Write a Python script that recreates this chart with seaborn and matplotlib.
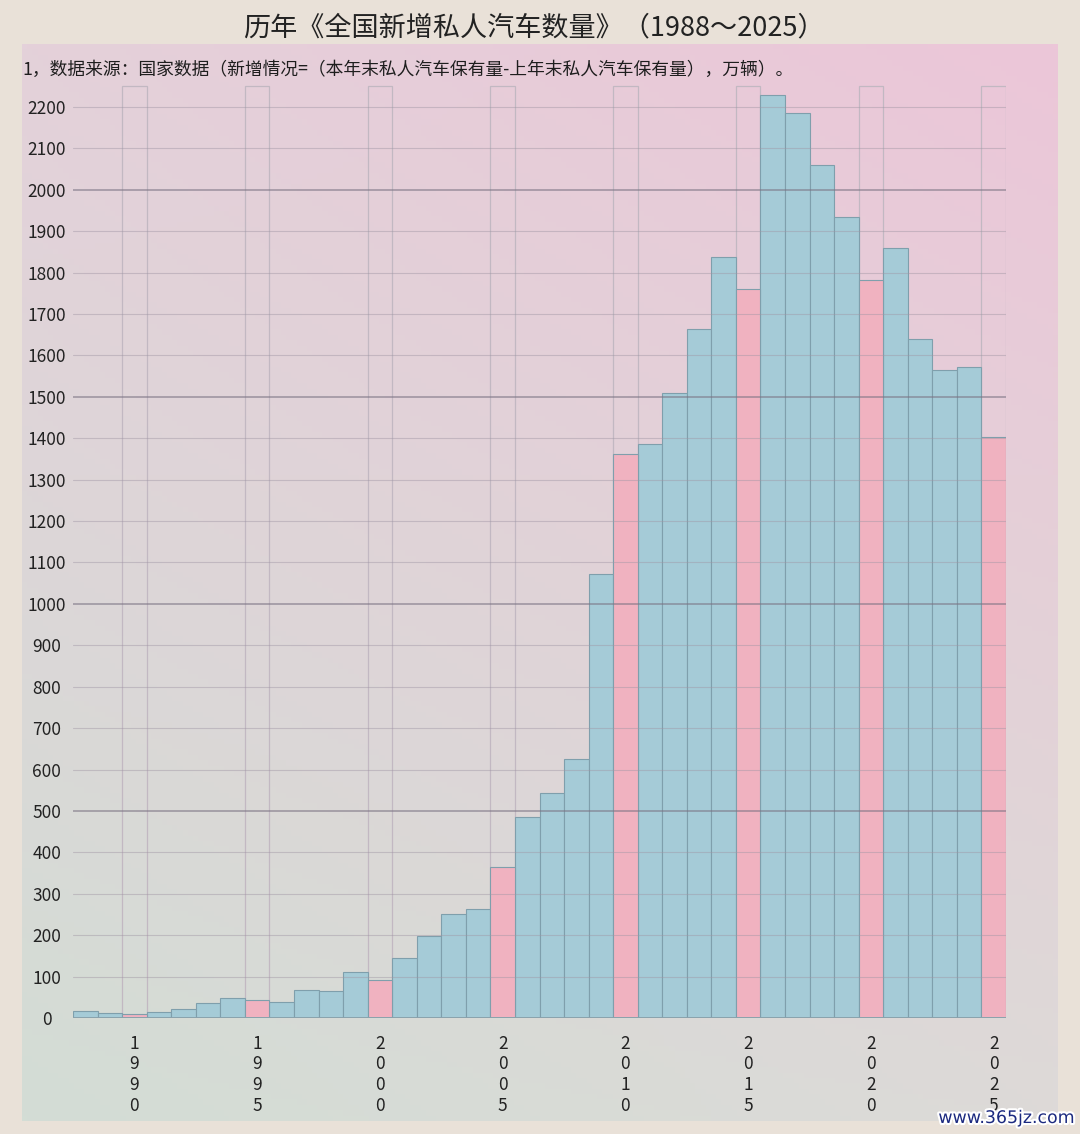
import numpy as np
import pandas as pd
import matplotlib
matplotlib.use("Agg")
import matplotlib.pyplot as plt
import matplotlib.patheffects as pe
import seaborn as sns

# ---- data ----
years = list(range(1988, 2026))
new_cars = [18, 13, 9, 14, 22, 36, 48, 44, 39, 68, 65, 112, 91, 146, 197, 250, 263,
            364, 485, 544, 625, 1072, 1362, 1387, 1510, 1663, 1837, 1760, 2229, 2185,
            2059, 1934, 1781, 1859, 1639, 1565, 1573, 1403]
milestone_years = [1990, 1995, 2000, 2005, 2010, 2015, 2020, 2025]
frame_height = 2250
y_ticks = list(range(0, 2201, 100))
title = "历年《全国新增私人汽车数量》（1988～2025）"
subtitle = "1，数据来源：国家数据（新增情况=（本年末私人汽车保有量-上年末私人汽车保有量），万辆）。"

sns.set_theme(style="white")
plt.rcParams['font.family'] = ['Noto Sans CJK SC', 'DejaVu Sans']

W, H = 1080, 1134
fig = plt.figure(figsize=(W / 100, H / 100), dpi=100)
fig.patch.set_facecolor('#e9e1d8')

# gradient panel
bg = fig.add_axes([22 / W, 1 - 1121 / H, (1058 - 22) / W, (1121 - 44) / H])
def hx(c):
    return np.array([int(c[i:i + 2], 16) / 255 for i in (1, 3, 5)])
TL, TR, BL, BR = hx('#e4d1da'), hx('#ecc6d8'), hx('#d3ddd5'), hx('#dddad8')
u = np.linspace(0, 1, 200)[None, :, None]
v = np.linspace(0, 1, 200)[:, None, None]
img = (1 - v) * ((1 - u) * TL + u * TR) + v * ((1 - u) * BL + u * BR)
bg.imshow(img, aspect='auto', extent=[0, 1, 0, 1])
bg.set_axis_off()

df = pd.DataFrame({
    'year': [str(y) for y in years],
    'value': new_cars,
    'kind': ['m' if y in milestone_years else 'n' for y in years],
})
df_frame = pd.DataFrame({'year': [str(y) for y in milestone_years],
                         'h': [frame_height] * len(milestone_years)})
order = [str(y) for y in years]

px = 0.4141  # pixels per unit
ymax = 2270
ax = fig.add_axes([73 / W, (H - 1018) / H, (1006 - 73) / W, ymax * px / H])
ax.patch.set_alpha(0)

sns.barplot(data=df_frame, x='year', y='h', order=order, ax=ax, width=1,
            fill=False, edgecolor='#c2b8c2', linewidth=0.9)
sns.barplot(data=df, x='year', y='value', hue='kind', order=order, ax=ax,
            palette={'m': '#f0b2c0', 'n': '#a5cbd7'}, dodge=False, width=1,
            saturation=1, edgecolor='#7f9fac', linewidth=0.8, legend=False)

ax.set_xlim(-0.5, len(years) - 0.5)
ax.set_ylim(0, ymax)

for yv in y_ticks[1:]:
    dark = (yv % 500 == 0)
    ax.axhline(yv, color='#7c7484' if dark else '#a096a4',
               lw=1.1 if dark else 0.8, alpha=0.7 if dark else 0.45, zorder=5)
ax.axhline(0, color='#8aa2ac', lw=1.4, zorder=6)

ax.set_yticks(y_ticks)
ax.set_yticklabels([str(t) for t in y_ticks])
ax.tick_params(axis='y', length=0, pad=19, labelsize=12.5, labelcolor='#222222')
for lab in ax.get_yticklabels():
    lab.set_horizontalalignment('center')

xt = [order.index(str(y)) for y in milestone_years]
ax.set_xticks(xt)
ax.set_xticklabels(['\n'.join(str(y)) for y in milestone_years], linespacing=1.2)
ax.tick_params(axis='x', length=0, pad=12, labelsize=12.5, labelcolor='#222222')
ax.set_xlabel('')
ax.set_ylabel('')
for s in ax.spines.values():
    s.set_visible(False)

fig.text(534 / W, 1 - 28 / H, title, ha='center', va='center', fontsize=19.5,
         color='#222222')
fig.text(22 / W, 1 - 70 / H, subtitle, ha='left', va='center', fontsize=12.8,
         color='#1e1e1e')
fig.text(1075 / W, 1 - 1118 / H, 'www.365jz.com', ha='right', va='center',
         fontsize=12.5, color='#1c2a80', family=['Liberation Sans Narrow', 'DejaVu Sans'],
         path_effects=[pe.withStroke(linewidth=3, foreground='white')])

fig.savefig('out.png', dpi=100)
